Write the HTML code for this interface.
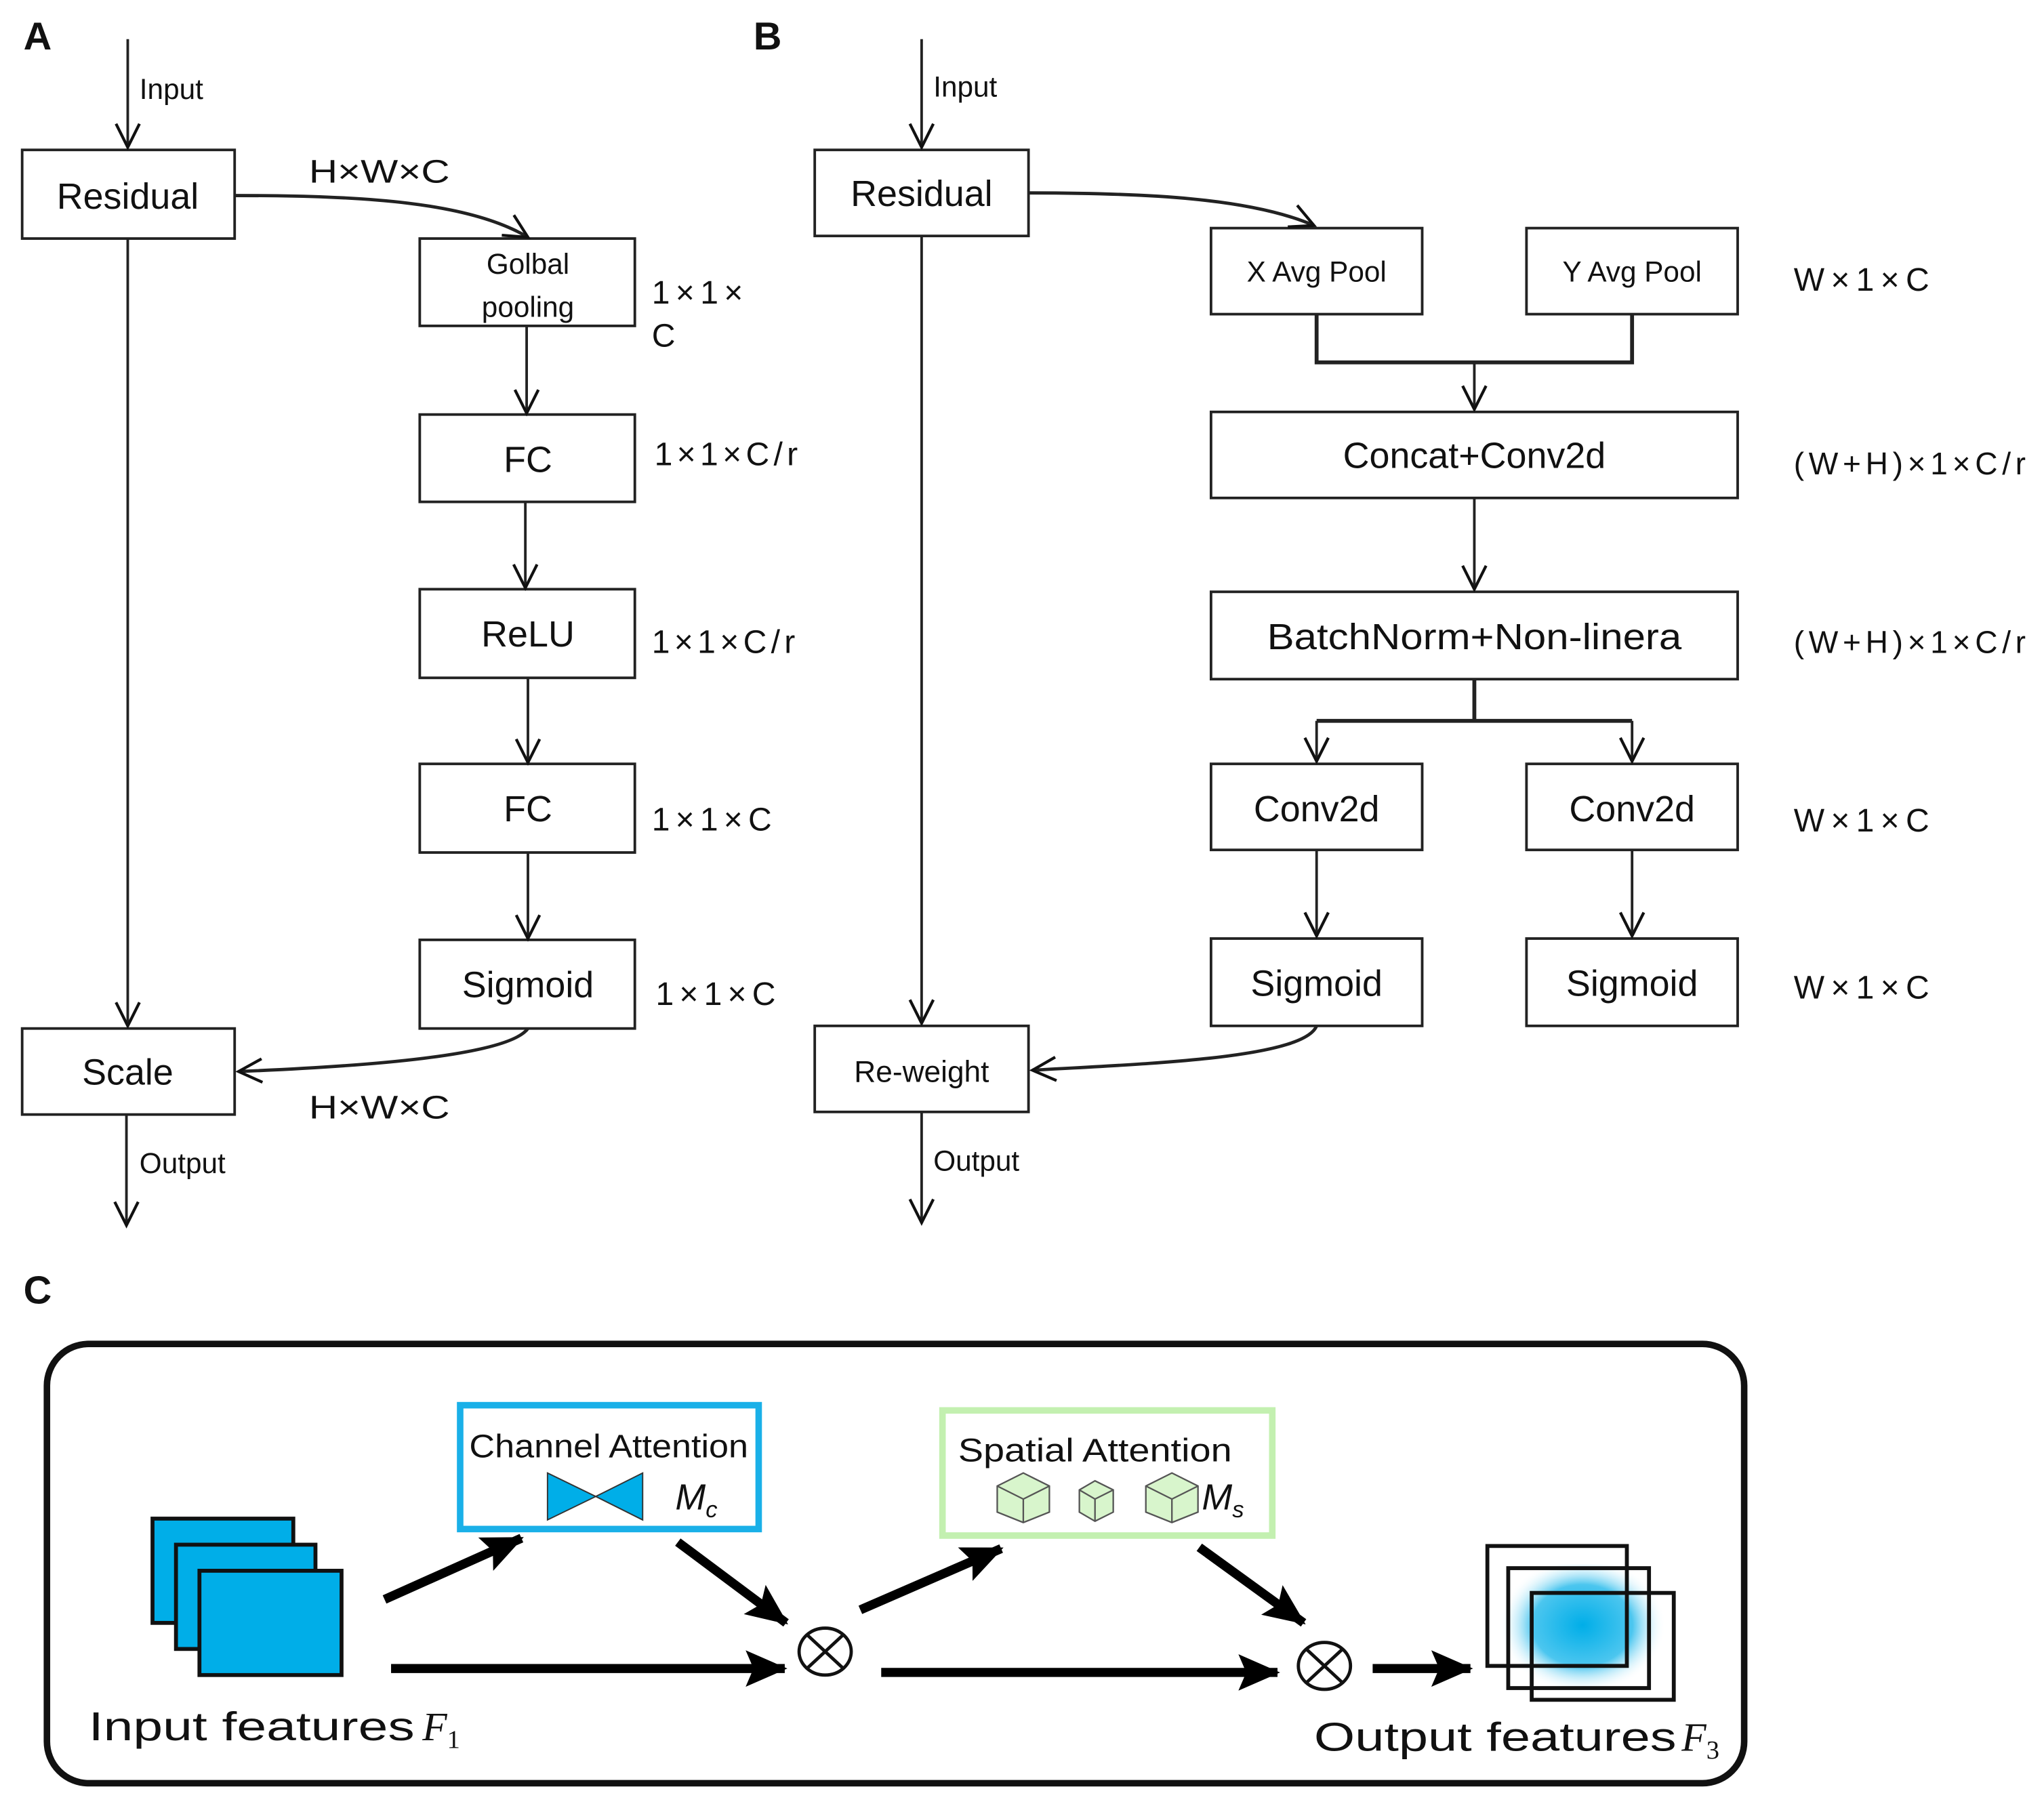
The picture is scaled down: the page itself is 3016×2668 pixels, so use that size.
<!DOCTYPE html>
<html><head><meta charset="utf-8"><style>
html,body{margin:0;padding:0;background:#fff;}
svg{display:block;}
text{font-family:"Liberation Sans",sans-serif;fill:#111;}
</style></head><body>
<svg width="3016" height="2668" viewBox="0 0 1568 1387" preserveAspectRatio="none" xmlns="http://www.w3.org/2000/svg">
<defs>
<marker id="a" markerWidth="24" markerHeight="24" refX="20" refY="12" orient="auto" markerUnits="userSpaceOnUse">
<path d="M2,3 L20,12 L2,21" fill="none" stroke="#111" stroke-width="2.2"/></marker>
<marker id="t" markerWidth="40" markerHeight="40" refX="30" refY="20" orient="auto" markerUnits="userSpaceOnUse">
<path d="M0,6 L32,20 L0,34 L6,20z" fill="#000"/></marker>
<radialGradient id="g" cx="0.5" cy="0.45" r="0.5"><stop offset="0" stop-color="#00aee8"/><stop offset="0.6" stop-color="#4cc6ef"/><stop offset="1" stop-color="#fff" stop-opacity="0"/></radialGradient>
</defs>
<g fill="none" stroke="#222" stroke-width="2">
<rect x="17" y="115" width="163" height="68" fill="#fff"/>
<rect x="322" y="183" width="165" height="67"/>
<rect x="322" y="318" width="165" height="67"/>
<rect x="322" y="452" width="165" height="68"/>
<rect x="322" y="586" width="165" height="68"/>
<rect x="322" y="721" width="165" height="68"/>
<rect x="17" y="789" width="163" height="66"/>
<line x1="98" y1="30" x2="98" y2="113" marker-end="url(#a)"/>
<line x1="98" y1="183" x2="98" y2="787" marker-end="url(#a)"/>
<line x1="97" y1="855" x2="97" y2="940" marker-end="url(#a)"/>
<path d="M180,150 C280,150 360,155 405,182" stroke-width="2.5" marker-end="url(#a)"/>
<line x1="404" y1="250" x2="404" y2="317" marker-end="url(#a)"/>
<line x1="403" y1="385" x2="403" y2="451" marker-end="url(#a)"/>
<line x1="405" y1="520" x2="405" y2="585" marker-end="url(#a)"/>
<line x1="405" y1="654" x2="405" y2="720" marker-end="url(#a)"/>
<path d="M405,789 C390,810 280,818 183,822" stroke-width="2.5" marker-end="url(#a)"/>
<rect x="625" y="115" width="164" height="66"/>
<rect x="929" y="175" width="162" height="66"/>
<rect x="1171" y="175" width="162" height="66"/>
<rect x="929" y="316" width="404" height="66"/>
<rect x="929" y="454" width="404" height="67"/>
<rect x="929" y="586" width="162" height="66"/>
<rect x="1171" y="586" width="162" height="66"/>
<rect x="929" y="720" width="162" height="67"/>
<rect x="1171" y="720" width="162" height="67"/>
<rect x="625" y="787" width="164" height="66"/>
<line x1="707" y1="30" x2="707" y2="113" marker-end="url(#a)"/>
<line x1="707" y1="181" x2="707" y2="785" marker-end="url(#a)"/>
<line x1="707" y1="853" x2="707" y2="938" marker-end="url(#a)"/>
<path d="M789,148 C880,148 960,152 1008,173" stroke-width="2.5" marker-end="url(#a)"/>
<path d="M1010,241 V278 H1252 V241" stroke-width="3"/>
<line x1="1131" y1="278" x2="1131" y2="314" marker-end="url(#a)"/>
<line x1="1131" y1="382" x2="1131" y2="452" marker-end="url(#a)"/>
<path d="M1131,521 V553" stroke-width="3"/>
<path d="M1010,553 H1252" stroke-width="3"/>
<line x1="1010" y1="553" x2="1010" y2="584" marker-end="url(#a)"/>
<line x1="1252" y1="553" x2="1252" y2="584" marker-end="url(#a)"/>
<line x1="1010" y1="652" x2="1010" y2="718" marker-end="url(#a)"/>
<line x1="1252" y1="652" x2="1252" y2="718" marker-end="url(#a)"/>
<path d="M1010,787 C1000,812 880,816 792,821" stroke-width="2.5" marker-end="url(#a)"/>
</g>
<g font-size="28" text-anchor="middle">
<text x="98" y="160">Residual</text>
<text x="405" y="210" font-size="22">Golbal</text>
<text x="405" y="243" font-size="22">pooling</text>
<text x="405" y="362">FC</text>
<text x="405" y="496">ReLU</text>
<text x="405" y="630">FC</text>
<text x="405" y="765">Sigmoid</text>
<text x="98" y="832">Scale</text>
<text x="707" y="158">Residual</text>
<text x="1010" y="216" font-size="22">X Avg Pool</text>
<text x="1252" y="216" font-size="22">Y Avg Pool</text>
<text x="1131" y="359">Concat+Conv2d</text>
<text x="1131" y="498" textLength="318" lengthAdjust="spacingAndGlyphs">BatchNorm+Non-linera</text>
<text x="1010" y="630">Conv2d</text>
<text x="1252" y="630">Conv2d</text>
<text x="1010" y="764">Sigmoid</text>
<text x="1252" y="764">Sigmoid</text>
<text x="707" y="830" font-size="23">Re-weight</text>
</g>
<g font-size="25">
<text x="18" y="38" font-size="30" font-weight="bold">A</text>
<text x="578" y="38" font-size="30" font-weight="bold">B</text>
<text x="18" y="1000" font-size="30" font-weight="bold">C</text>
<text x="107" y="76" font-size="22">Input</text>
<text x="107" y="900" font-size="22">Output</text>
<text x="716" y="74" font-size="22">Input</text>
<text x="716" y="898" font-size="22">Output</text>
<text x="237" y="140" textLength="108" lengthAdjust="spacingAndGlyphs">H×W×C</text>
<text x="237" y="858" textLength="108" lengthAdjust="spacingAndGlyphs">H×W×C</text>
<text x="500" y="233" textLength="70">1×1×</text>
<text x="500" y="266">C</text>
<text x="502" y="357" textLength="110">1×1×C/r</text>
<text x="500" y="501" textLength="110">1×1×C/r</text>
<text x="500" y="637" textLength="92">1×1×C</text>
<text x="503" y="771" textLength="92">1×1×C</text>
<text x="1376" y="223" textLength="104">W×1×C</text>
<text x="1376" y="364" font-size="24" textLength="178">(W+H)×1×C/r</text>
<text x="1376" y="501" font-size="24" textLength="178">(W+H)×1×C/r</text>
<text x="1376" y="638" textLength="104">W×1×C</text>
<text x="1376" y="766" textLength="104">W×1×C</text>
</g>
<rect x="36" y="1031" width="1302" height="337" rx="32" fill="none" stroke="#111" stroke-width="5"/>
<g stroke="#111" stroke-width="3" fill="#00aee8">
<rect x="117" y="1165" width="108" height="80"/>
<rect x="135" y="1185" width="107" height="80"/>
<rect x="153" y="1205" width="109" height="80"/>
</g>
<text x="68" y="1335" font-size="31"><tspan textLength="250" lengthAdjust="spacingAndGlyphs">Input features</tspan><tspan font-family="Liberation Serif" font-style="italic" dx="6">F</tspan><tspan font-family="Liberation Serif" font-size="20" dy="6">1</tspan></text>
<rect x="353" y="1078" width="229" height="95" fill="none" stroke="#1ab0e8" stroke-width="5"/>
<text x="467" y="1118" font-size="25" text-anchor="middle" textLength="214" lengthAdjust="spacingAndGlyphs">Channel Attention</text>
<path d="M420,1130 L457,1148 L493,1130 L493,1166 L457,1148 L420,1166z" fill="#00aee8" stroke="#333" stroke-width="1"/>
<text x="518" y="1158" font-size="28" font-family="Liberation Serif" font-style="italic">M<tspan font-size="18" dy="6">c</tspan></text>
<rect x="723" y="1082" width="253" height="96" fill="none" stroke="#c3f0b0" stroke-width="5"/>
<text x="735" y="1121" font-size="25" textLength="210" lengthAdjust="spacingAndGlyphs">Spatial Attention</text>
<g fill="#d8f5cc" stroke="#555" stroke-width="1.2">
<path d="M765,1140 L785,1130 L805,1140 L805,1160 L785,1168 L765,1160z"/><path d="M765,1140 L785,1150 L805,1140 M785,1150 V1168" fill="none"/>
<path d="M828,1143 L840,1136 L854,1143 L854,1160 L840,1167 L828,1160z"/><path d="M828,1143 L840,1150 L854,1143 M840,1150 V1167" fill="none"/>
<path d="M879,1140 L899,1130 L919,1140 L919,1160 L899,1168 L879,1160z"/><path d="M879,1140 L899,1150 L919,1140 M899,1150 V1168" fill="none"/>
</g>
<text x="922" y="1158" font-size="28" font-family="Liberation Serif" font-style="italic">M<tspan font-size="18" dy="6">s</tspan></text>
<g stroke="#000" stroke-width="7" fill="none">
<line x1="295" y1="1227" x2="400" y2="1180" marker-end="url(#t)"/>
<line x1="520" y1="1183" x2="603" y2="1245" marker-end="url(#t)"/>
<line x1="300" y1="1280" x2="602" y2="1280" marker-end="url(#t)"/>
<line x1="660" y1="1235" x2="768" y2="1188" marker-end="url(#t)"/>
<line x1="920" y1="1187" x2="1000" y2="1245" marker-end="url(#t)"/>
<line x1="676" y1="1283" x2="980" y2="1283" marker-end="url(#t)"/>
<line x1="1053" y1="1280" x2="1128" y2="1280" marker-end="url(#t)"/>
</g>
<g stroke="#111" stroke-width="2.5" fill="#fff">
<ellipse cx="633" cy="1267" rx="20" ry="18"/><path d="M619,1254 L647,1280 M647,1254 L619,1280"/>
<ellipse cx="1016" cy="1278" rx="20" ry="18"/><path d="M1002,1265 L1030,1291 M1030,1265 L1002,1291"/>
</g>
<rect x="1150" y="1200" width="128" height="104" fill="url(#g)"/>
<g fill="none" stroke="#111" stroke-width="3">
<rect x="1141" y="1186" width="107" height="92"/>
<rect x="1157" y="1203" width="108" height="92"/>
<rect x="1175" y="1222" width="109" height="82"/>
</g>
<text x="1008" y="1343" font-size="31"><tspan textLength="278" lengthAdjust="spacingAndGlyphs">Output features</tspan><tspan font-family="Liberation Serif" font-style="italic" dx="4">F</tspan><tspan font-family="Liberation Serif" font-size="20" dy="6">3</tspan></text>
</svg>
</body></html>
